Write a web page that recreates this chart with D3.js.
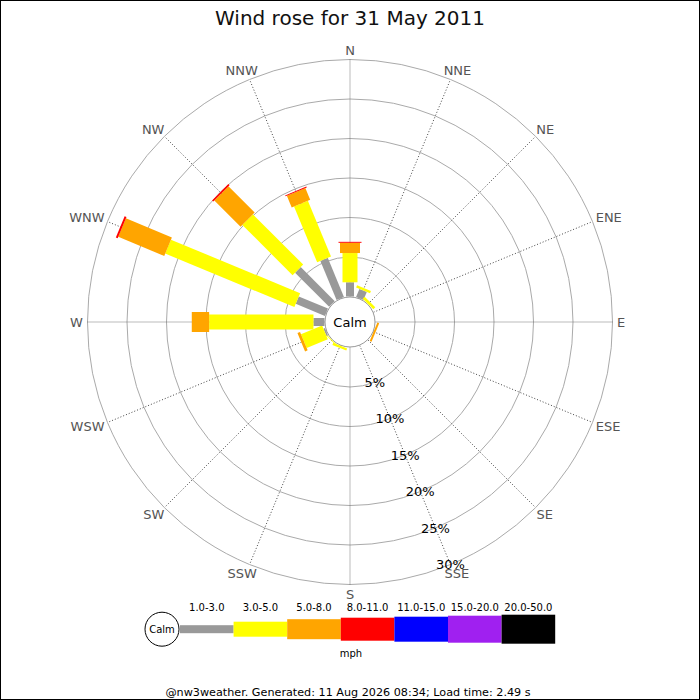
<!DOCTYPE html>
<html>
<head>
<meta charset="utf-8">
<script src="https://cdn.jsdelivr.net/npm/d3@7"></script>
<style>
  html, body { margin: 0; padding: 0; background: #fff; }
  svg { display: block; font-family: 'DejaVu Sans', sans-serif; }
</style>
</head>
<body>
<div id="svg-container"></div>
<script>
const directions = ['N', 'NNE', 'NE', 'ENE', 'E', 'ESE', 'SE', 'SSE', 'S', 'SSW', 'SW', 'WSW', 'W', 'WNW', 'NW', 'NNW'];
const speedBins = ['1.0-3.0', '3.0-5.0', '5.0-8.0', '8.0-11.0', '11.0-15.0', '15.0-20.0', '20.0-50.0'];
const binColors = ['#999999', '#ffff00', '#ffa500', '#ff0000', '#0000ff', '#a020f0', '#000000'];
const percentTicks = [5, 10, 15, 20, 25, 30];

// % of the day per direction, one array per speed bin (order follows directions)
const speed1to3 = [1.8, 1.1, 0, 0, 0, 0, 0, 0, 0, 0, 0, 0.2, 1.4, 4.0, 6.1, 5.35];
const speed3to5 = [3.7, 0.3, 0.35, 0, 0, 0, 0, 0, 0, 0.3, 0.1, 2.9, 13.2, 17.7, 9.0, 7.65];
const speed5to8 = [1.3, 0, 0, 0, 0, 0.25, 0, 0, 0, 0, 0, 0.35, 2.2, 6.3, 4.7, 1.6];
const speed8to11 = [0.12, 0, 0, 0, 0, 0, 0, 0, 0, 0, 0, 0, 0, 0.25, 0.2, 0.12];
const speed11to15 = [0, 0, 0, 0, 0, 0, 0, 0, 0, 0, 0, 0, 0, 0, 0, 0];
const speed15to20 = [0, 0, 0, 0, 0, 0, 0, 0, 0, 0, 0, 0, 0, 0, 0, 0];
const speed20to50 = [0, 0, 0, 0, 0, 0, 0, 0, 0, 0, 0, 0, 0, 0, 0, 0];

const titleText = 'Wind rose for 31 May 2011';
const footerText = '@nw3weather. Generated: 11 Aug 2026 08:34; Load time: 2.49 s';

const drawChart = () => {
  const WIDTH = 700;
  const HEIGHT = 700;
  const CX = 350;
  const CY = 322;
  const CALM_RADIUS = 25;
  const LABEL_RADIUS = 267;
  const LABEL_HALF_HEIGHT = 5;
  const barWidths = [8, 15, 20, 23, 25, 27, 29];

  const series = [speed1to3, speed3to5, speed5to8, speed8to11, speed11to15, speed15to20, speed20to50];

  const svg = d3.create('svg').attr('width', WIDTH).attr('height', HEIGHT);
  // attach early so text boxes can be measured
  document.getElementById('svg-container').appendChild(svg.node());

  svg
    .append('rect')
    .attr('x', 0.5)
    .attr('y', 0.5)
    .attr('width', WIDTH - 1)
    .attr('height', HEIGHT - 1)
    .attr('fill', '#fff')
    .attr('stroke', '#000');

  svg
    .append('text')
    .attr('x', CX)
    .attr('y', 25)
    .attr('text-anchor', 'middle')
    .attr('font-size', 20)
    .attr('fill', '#111')
    .text(titleText);

  const rScale = d3.scaleLinear().domain([0, 30]).range([25.5, 262.5]);
  const angleScale = d3.scaleBand().domain(directions).range([0, 360]);
  const angleOf = (dir) => angleScale(dir);
  const rad = (deg) => (deg * Math.PI) / 180;
  const ux = (dir) => Math.sin(rad(angleOf(dir)));
  const uy = (dir) => -Math.cos(rad(angleOf(dir)));

  const rose = svg.append('g').attr('transform', `translate(${CX}, ${CY})`);

  rose
    .append('g')
    .selectAll('circle')
    .data(percentTicks)
    .join('circle')
    .attr('r', (d) => rScale(d))
    .attr('fill', 'none')
    .attr('stroke', '#aaa')
    .attr('stroke-width', 1);

  rose
    .append('g')
    .selectAll('line')
    .data(directions)
    .join('line')
    .attr('x1', (d) => rScale(0) * ux(d))
    .attr('y1', (d) => rScale(0) * uy(d))
    .attr('x2', (d) => rScale(30) * ux(d))
    .attr('y2', (d) => rScale(30) * uy(d))
    .attr('stroke', (d, i) => (i % 4 === 0 ? '#777' : '#444'))
    .attr('stroke-width', 1)
    .attr('stroke-dasharray', (d, i) => (i % 4 === 0 ? '1,1' : '1,2'));

  // compass labels sit just outside the ring, pushed out by half their box
  rose
    .append('g')
    .selectAll('text')
    .data(directions)
    .join('text')
    .attr('text-anchor', 'middle')
    .attr('dominant-baseline', 'central')
    .attr('font-size', 13)
    .attr('fill', '#555')
    .text((d) => d)
    .each(function (d) {
      const box = this.getBBox();
      d3.select(this)
        .attr('x', LABEL_RADIUS * ux(d) + (ux(d) * box.width) / 2)
        .attr('y', LABEL_RADIUS * uy(d) + uy(d) * LABEL_HALF_HEIGHT);
    });

  rose
    .append('circle')
    .attr('r', CALM_RADIUS)
    .attr('fill', '#fff')
    .attr('stroke', '#999');

  // stacked bars: one group per direction, rotated, segments drawn pointing up
  const stacked = directions.map((dir, i) => {
    let cumulative = 0;
    return series.map((values, bin) => {
      const start = cumulative;
      cumulative += values[i];
      return { dir, bin, start, end: cumulative, value: values[i] };
    });
  });

  rose
    .append('g')
    .selectAll('g')
    .data(stacked)
    .join('g')
    .attr('transform', (d) => `rotate(${angleOf(d[0].dir)})`)
    .selectAll('rect')
    .data((d) => d.filter((seg) => seg.value > 0))
    .join('rect')
    .attr('x', (seg) => -barWidths[seg.bin] / 2)
    .attr('y', (seg) => -rScale(seg.end))
    .attr('width', (seg) => barWidths[seg.bin])
    .attr('height', (seg) => rScale(seg.end) - rScale(seg.start))
    .attr('fill', (seg) => binColors[seg.bin]);

  rose
    .append('text')
    .attr('x', 0)
    .attr('y', 0)
    .attr('text-anchor', 'middle')
    .attr('dominant-baseline', 'central')
    .attr('font-size', 13)
    .attr('fill', '#000')
    .text('Calm');

  const labelAngle = rad(157.5);
  rose
    .append('g')
    .selectAll('text')
    .data(percentTicks)
    .join('text')
    .attr('x', (d) => rScale(d) * Math.sin(labelAngle))
    .attr('y', (d) => -rScale(d) * Math.cos(labelAngle))
    .attr('text-anchor', 'middle')
    .attr('dominant-baseline', 'central')
    .attr('font-size', 13)
    .attr('fill', '#000')
    .text((d) => `${d}%`);

  // legend
  const LEGEND_X = 180;
  const LEGEND_Y = 629.2;
  const legendScale = d3
    .scaleBand()
    .domain(speedBins)
    .range([LEGEND_X, LEGEND_X + 53.6 * speedBins.length]);

  const legend = svg.append('g').attr('id', 'legend');

  legend
    .append('circle')
    .attr('cx', 162)
    .attr('cy', LEGEND_Y)
    .attr('r', 17)
    .attr('fill', '#fff')
    .attr('stroke', '#000');

  legend
    .append('text')
    .attr('x', 162)
    .attr('y', LEGEND_Y)
    .attr('text-anchor', 'middle')
    .attr('dominant-baseline', 'central')
    .attr('font-size', 10)
    .text('Calm');

  legend
    .selectAll('rect')
    .data(speedBins)
    .join('rect')
    .attr('x', (d) => legendScale(d))
    .attr('y', (d, i) => LEGEND_Y - barWidths[i] / 2)
    .attr('width', legendScale.bandwidth())
    .attr('height', (d, i) => barWidths[i])
    .attr('fill', (d, i) => binColors[i]);

  legend
    .selectAll('text.bin')
    .data(speedBins)
    .join('text')
    .attr('class', 'bin')
    .attr('x', (d) => legendScale(d) + legendScale.bandwidth() / 2)
    .attr('y', 611)
    .attr('text-anchor', 'middle')
    .attr('font-size', 10)
    .text((d) => d);

  legend
    .append('text')
    .attr('x', 351)
    .attr('y', 657)
    .attr('text-anchor', 'middle')
    .attr('font-size', 10)
    .text('mph');

  svg
    .append('text')
    .attr('x', 348)
    .attr('y', 696)
    .attr('text-anchor', 'middle')
    .attr('font-size', 11.2)
    .text(footerText);
};

drawChart();
</script>
</body>
</html>
